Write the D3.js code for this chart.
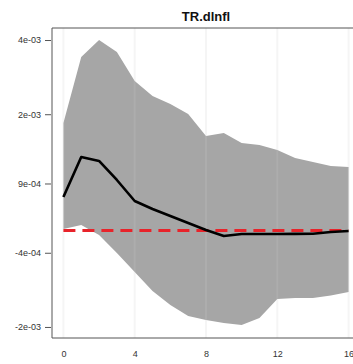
<!DOCTYPE html>
<html><head><meta charset="utf-8">
<script src="https://cdn.jsdelivr.net/npm/d3@7"></script>
<style>body{margin:0;background:#fff}svg{display:block}</style>
</head><body>
<svg id="c" width="353" height="364"></svg>
<script>
const horizon = [0,1,2,3,4,5,6,7,8,9,10,11,12,13,14,15,16];
const irf   = [0.000677,0.001485,0.001405,0.001021,0.000596,0.000435,0.000293,0.000152,0.000010,-0.000111,-0.000071,-0.000071,-0.000070,-0.000068,-0.000065,-0.000030,-0.000010];
const upper = [0.002173,0.003506,0.003850,0.003607,0.003021,0.002718,0.002557,0.002354,0.001910,0.001970,0.001768,0.001728,0.001627,0.001465,0.001384,0.001304,0.001283];
const lower = [0.000030,0.000111,-0.000091,-0.000455,-0.000839,-0.001223,-0.001506,-0.001728,-0.001809,-0.001869,-0.001910,-0.001768,-0.001384,-0.001364,-0.001364,-0.001314,-0.001243];
const yTickValues = [-0.00195,-0.00045,0.00095,0.00235,0.00385];
const yTickLabels = ["-2e-03","-4e-04","9e-04","2e-03","4e-03"];
const xTickValues = [0,4,8,12,16];
const title = "TR.dlnfl";

const svg = d3.select("#c");
const L = 52, R = 360, T = 28, B = 338;
const x = d3.scaleLinear().domain([-0.64, 16.64]).range([L, R]);
const y = d3.scaleLinear().domain([-0.002173, 0.004093]).range([B, T]);

// faint grid
svg.append("g").selectAll("line").data(xTickValues).join("line")
  .attr("x1", d => x(d)).attr("x2", d => x(d)).attr("y1", T).attr("y2", B)
  .attr("stroke", "#f5f5f5").attr("stroke-width", 2);

const data = horizon.map((h, i) => ({h, m: irf[i], u: upper[i], l: lower[i]}));

svg.append("path").datum(data)
  .attr("d", d3.area().x(d => x(d.h)).y0(d => y(d.l)).y1(d => y(d.u)))
  .attr("fill", "#a6a6a6");

svg.append("g").selectAll("line").data(xTickValues).join("line")
  .attr("x1", d => x(d)).attr("x2", d => x(d)).attr("y1", T).attr("y2", B)
  .attr("stroke", "#fff").attr("stroke-opacity", 0.08).attr("stroke-width", 2);

svg.append("line")
  .attr("x1", x(0)).attr("x2", x(16)).attr("y1", y(0)).attr("y2", y(0))
  .attr("stroke", "#e8232a").attr("stroke-width", 3).attr("stroke-dasharray", "12,7");

svg.append("path").datum(data)
  .attr("d", d3.line().x(d => x(d.h)).y(d => y(d.m)))
  .attr("fill", "none").attr("stroke", "#000").attr("stroke-width", 2.6)
  .attr("stroke-linejoin", "round");

// frame
svg.append("path")
  .attr("d", `M${R},${T}H${L}V${B}H${R}`)
  .attr("fill", "none").attr("stroke", "#555").attr("stroke-width", 1);

// y axis
const yAxis = d3.axisLeft(y).tickValues(yTickValues)
  .tickFormat((d, i) => yTickLabels[i]).tickSize(6).tickPadding(4);
const gy = svg.append("g").attr("transform", `translate(${L - 1},0)`).call(yAxis);
gy.select(".domain").remove();
gy.selectAll("line").attr("stroke", "#555");
gy.selectAll("text").attr("font-family", "Liberation Sans, Arial, sans-serif")
  .attr("font-size", 9).attr("fill", "#333");

// x axis
const xAxis = d3.axisBottom(x).tickValues(xTickValues).tickSize(0).tickPadding(13);
const gx = svg.append("g").attr("transform", `translate(0,${B})`).call(xAxis);
gx.select(".domain").remove();
gx.selectAll("text").attr("font-family", "Liberation Sans, Arial, sans-serif")
  .attr("font-size", 9).attr("fill", "#333");

svg.append("text").attr("x", (L + R) / 2).attr("y", 21)
  .attr("text-anchor", "middle")
  .attr("font-family", "Liberation Sans, Arial, sans-serif")
  .attr("font-weight", "bold").attr("font-size", 13).attr("fill", "#111")
  .text(title);
</script>
</body></html>
